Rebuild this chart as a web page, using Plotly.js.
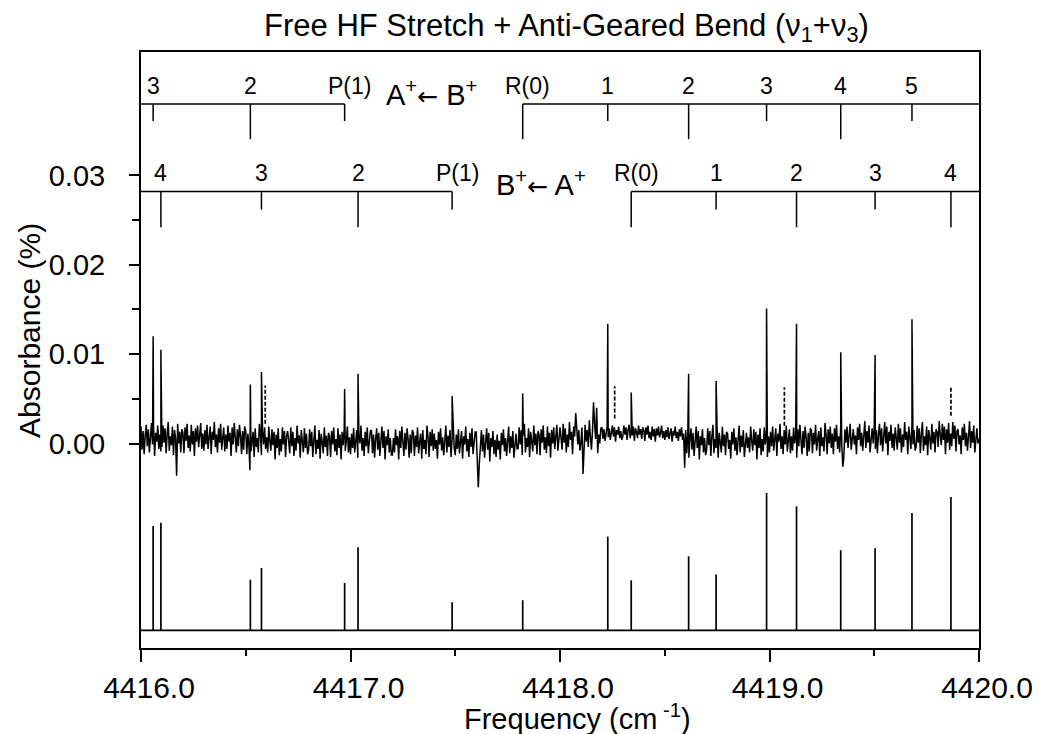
<!DOCTYPE html>
<html><head><meta charset="utf-8">
<script src="https://cdn.plot.ly/plotly-3.0.1.min.js"></script>
<style>html,body{margin:0;padding:0;background:#fff}#chart{width:1039px;height:734px}</style>
</head><body><div id="chart"></div>
<script>
// ---------- DATA ----------
// A+ <- B+ sub-band: assignments, line positions (cm-1), observed peak absorbance (%), calculated relative intensity
const abLabels = ['3', '2', 'P(1)', 'R(0)', '1', '2', '3', '4', '5'];
const abFreq   = [4416.058, 4416.522, 4416.972, 4417.822, 4418.228, 4418.614, 4418.986, 4419.340, 4419.680];
const abObs    = [0.0120, 0.0066, 0.0061, 0.0056, 0.0134, 0.0078, 0.0151, 0.0102, 0.0139];
const abCalc   = [0.760, 0.369, 0.344, 0.219, 0.682, 0.539, 1.000, 0.583, 0.854];
const abStrong = [false, true, false, true, false, true, false, true, false];

// B+ <- A+ sub-band
const baLabels = ['4', '3', '2', 'P(1)', 'R(0)', '1', '2', '3', '4'];
const baFreq   = [4416.095, 4416.575, 4417.036, 4417.485, 4418.340, 4418.745, 4419.129, 4419.504, 4419.866];
const baObs    = [0.0105, 0.0080, 0.0078, 0.0053, 0.0057, 0.0070, 0.0134, 0.0099, null];
const baCalc   = [0.784, 0.454, 0.605, 0.204, 0.364, 0.406, 0.903, 0.597, 0.971];
const baStrong = [true, false, true, false, true, false, true, false, true];

// dashed features in the observed trace (cm-1, absorbance % bottom / top)
const dashFreq = [4416.593, 4418.261, 4419.071, 4419.866];
const dashLow  = [0.0022, 0.0028, 0.0020, 0.0031];
const dashHigh = [0.0065, 0.0064, 0.0063, 0.0064];

const noiseStart = 4416.0;
const noiseStep = 0.005;
const noise = [
 19,-7,14,-12,9,21,-3,16,-10,7,23,-1,18,-14,12,2,20,-6,10,-9,
 -4,20,1,17,-11,11,24,-8,8,-2,19,-13,15,6,-36,22,0,13,-10,16,
 12,-11,18,3,22,-5,9,-9,21,-1,14,-14,17,2,20,-4,7,23,-6,11,
 -8,15,-1,21,-6,8,19,-12,13,4,24,-4,10,-10,17,1,22,-7,6,18,
 -9,10,-6,20,2,12,-14,18,-1,23,7,-10,16,-3,21,9,-12,14,-7,19,
 14,-12,11,-2,-30,-9,4,13,-15,17,-4,6,-10,22,9,-13,15,-1,18,-6,
 7,-10,19,3,-8,16,-2,13,-18,10,-5,17,-13,5,-9,18,-1,14,-15,8,
 14,2,-11,18,-3,13,-14,6,-8,20,0,9,-16,15,4,-10,17,-5,11,-12,
 -8,16,-3,13,-15,7,20,-12,4,-6,15,-17,11,2,-11,18,-4,9,-14,12,
 8,-15,14,-1,18,-9,5,-13,17,-5,10,-18,13,-2,16,-8,3,19,-10,7,
 -12,11,-5,17,-10,4,15,-16,9,0,20,-8,6,-14,13,-3,18,-11,2,14,
 15,-11,10,-16,5,17,-7,12,-14,3,19,-5,14,-18,8,-2,16,-10,6,-13,
 -13,6,-10,16,-2,8,-18,14,-5,19,3,-14,12,-7,17,5,-16,10,-11,15,
 12,-14,9,-4,18,-11,2,11,-17,15,-6,4,-12,20,7,-15,13,-3,16,-8,
 11,-6,4,-17,13,-1,17,-8,7,-13,2,20,-10,9,-4,15,-15,5,12,-5,
 -13,10,-6,16,-11,3,14,-17,8,-1,19,-9,5,-15,12,-4,17,-12,1,13,
 13,-13,-49,-22,3,15,-9,10,-16,1,17,-7,12,-20,6,-4,14,-12,4,-15,
 10,-7,3,-18,12,-2,16,-9,6,-14,1,19,-11,8,-5,14,-16,4,11,-6,
 -6,18,-1,15,-13,9,22,-10,6,-4,17,-15,13,4,-9,20,-2,11,-12,14,
 10,-13,16,1,20,-7,7,-11,19,-3,12,-16,15,0,18,-6,5,21,-8,9,
 18,6,-7,22,1,17,-10,10,-4,24,4,13,-12,19,8,34,21,-1,15,-8,
 1,18,-34,-9,21,2,15,-4,26,8,-7,13,46,23,5,40,-11,10,0,17,
 18,5,16,3,13,19,7,17,4,12,20,8,18,2,15,10,19,6,14,4,
 8,20,10,18,4,15,21,6,14,9,19,3,17,13,6,20,10,16,5,18,
 15,3,18,10,20,6,13,4,19,8,16,2,17,9,19,7,12,20,6,14,
 4,15,7,18,5,12,17,2,14,9,19,6,13,3,16,8,18,4,11,-27,
 15,-11,10,-16,5,17,-7,12,-14,3,19,-5,14,-18,8,-2,16,-10,6,-13,
 -7,17,-2,14,-14,8,21,-11,5,-5,16,-16,12,3,-10,19,-3,10,-13,13,
 11,-6,4,-17,13,-1,17,-8,7,-13,2,20,-10,9,-4,15,-15,5,12,-5,
 7,-10,19,3,-8,16,-2,13,-18,10,-5,17,-13,5,-9,18,-1,14,-15,8,
 -10,13,-3,19,-8,6,17,-14,11,2,22,-6,8,-12,15,-1,20,-9,4,16,
 -11,8,-8,18,0,10,-16,16,-3,21,5,-12,14,-5,19,7,-14,12,-9,17,
 15,-11,12,-1,21,-8,5,14,-14,18,-3,7,-9,23,10,-12,16,0,19,-5,
 11,-12,17,2,21,-6,8,-10,20,-2,-26,-15,16,1,19,-5,6,22,-7,10,
 16,-1,9,-12,18,4,22,-3,12,-8,7,25,-5,14,1,20,-10,10,17,0,
 20,-6,15,-11,10,22,-2,17,-9,8,24,0,19,-13,13,3,21,-5,11,-8,
 18,6,-7,22,1,17,-10,10,-4,24,4,13,-12,19,8,-6,21,-1,15,-8,
 -4,20,1,17,-11,11,24,-8,8,-2,19,-13,15,6,-7,22,0,13,-10,16,
 13,-4,25,9,-2,22,4,19,-12,16,1,23,-7,11,-3,24,5,20,-9,14,
 16,-1,9,-12,18,4,22,-3,12,-8,7,25,-5,14,1,20,-10,10,17,0,
 5
];

// axis ticks
const xRange = [4416.0, 4420.0];
const xTickVals = [4416, 4417, 4418, 4419, 4420];
const xTickText = ['4416.0', '4417.0', '4418.0', '4419.0', '4420.0'];
const xMinorVals = [4416.5, 4417.5, 4418.5, 4419.5];
const yTickVals = [0, 0.01, 0.02, 0.03];
const yTickText = ['0.00', '0.01', '0.02', '0.03'];
const yMinorVals = [0.005, 0.015, 0.025];

// ---------- LAYOUT CONSTANTS (positions, not data) ----------
const FONT = 'Liberation Sans, Arial, Helvetica, sans-serif';
const yRange = [-0.02289, 0.04382];
const stickRange = [-0.129, 4.212];
const ladderA = {line: 0.0380, strong: 0.03407, weak: 0.03609, label: 0.0400};
const ladderB = {line: 0.0282, strong: 0.0242, weak: 0.02618, label: 0.0303};

// ---------- TRACES ----------
const pts = noise.map((v, i) => [noiseStart + i * noiseStep, v * 1e-4]);
abFreq.forEach((f, i) => { if (abObs[i] !== null) pts.push([f, abObs[i]]); });
baFreq.forEach((f, i) => { if (baObs[i] !== null) pts.push([f, baObs[i]]); });
pts.sort((a, b) => a[0] - b[0]);

const obsTrace = {
  x: pts.map(p => p[0]), y: pts.map(p => p[1]),
  type: 'scatter', mode: 'lines', line: {color: '#000', width: 1.5},
  hoverinfo: 'skip'
};

const dx = [], dy = [];
dashFreq.forEach((f, i) => { dx.push(f, f, null); dy.push(dashLow[i], dashHigh[i], null); });
const dashTrace = {x: dx, y: dy, type: 'scatter', mode: 'lines',
  line: {color: '#000', width: 1.7, dash: '4px,2px'}, hoverinfo: 'skip'};

// calculated stick spectrum
const sx = [xRange[0], xRange[1], null], sy = [0, 0, null];
const allFreq = abFreq.concat(baFreq), allCalc = abCalc.concat(baCalc);
allFreq.forEach((f, i) => { sx.push(f, f, null); sy.push(0, allCalc[i], null); });
const stickTrace = {x: sx, y: sy, yaxis: 'y2', type: 'scatter', mode: 'lines',
  line: {color: '#000', width: 1.7}, hoverinfo: 'skip'};

// assignment ladders
function ladder(freqs, labels, strong, L) {
  const lx = [], ly = [];
  const pIdx = labels.indexOf('P(1)'), rIdx = labels.indexOf('R(0)');
  lx.push(xRange[0], freqs[pIdx], null, freqs[rIdx], xRange[1], null);
  ly.push(L.line, L.line, null, L.line, L.line, null);
  freqs.forEach((f, i) => {
    lx.push(f, f, null);
    ly.push(L.line, strong[i] ? L.strong : L.weak, null);
  });
  return {x: lx, y: ly, type: 'scatter', mode: 'lines',
    line: {color: '#000', width: 1.5}, hoverinfo: 'skip'};
}
const ladA = ladder(abFreq, abLabels, abStrong, ladderA);
const ladB = ladder(baFreq, baLabels, baStrong, ladderB);

const annotations = [];
function ladderLabels(freqs, labels, L) {
  freqs.forEach((f, i) => {
    annotations.push({x: f, y: L.label, xref: 'x', yref: 'y', text: labels[i],
      showarrow: false, xanchor: 'center', yanchor: 'middle',
      xshift: labels[i].indexOf('(') >= 0 ? 5 : 0,
      font: {family: FONT, size: 23, color: '#000'}});
  });
}
ladderLabels(abFreq, abLabels, ladderA);
ladderLabels(baFreq, baLabels, ladderB);

const ARROW = '<span style="font-family:DejaVu Sans;font-size:25px">\u2190</span>';
annotations.push({x: 4417.388, y: 0.03923, xref: 'x', yref: 'y',
  text: 'A<sup>+</sup>' + ARROW + ' B<sup>+</sup>',
  showarrow: false, xanchor: 'center', yanchor: 'middle',
  font: {family: FONT, size: 29, color: '#000'}});
annotations.push({x: 4417.911, y: 0.02920, xref: 'x', yref: 'y',
  text: 'B<sup>+</sup>' + ARROW + ' A<sup>+</sup>',
  showarrow: false, xanchor: 'center', yanchor: 'middle',
  font: {family: FONT, size: 29, color: '#000'}});

// axis titles placed as in the reference
annotations.push({xref: 'paper', yref: 'paper', x: 0.5203, y: -0.115,
  text: 'Frequency (cm<sup> -1</sup>)', showarrow: false, xanchor: 'center', yanchor: 'middle',
  font: {family: FONT, size: 29, color: '#000'}});
annotations.push({xref: 'paper', yref: 'paper', x: -0.1325, y: 0.5336, textangle: -90,
  text: 'Absorbance (%)', showarrow: false, xanchor: 'center', yanchor: 'middle',
  font: {family: FONT, size: 30, color: '#000'}});

const layout = {
  width: 1039, height: 734,
  margin: {l: 141, r: 60, t: 52, b: 86},
  paper_bgcolor: '#fff', plot_bgcolor: '#fff',
  showlegend: false,
  font: {family: FONT, color: '#000'},
  title: {text: 'Free HF Stretch + Anti-Geared Bend (\u03bd<sub>1</sub>+\u03bd<sub>3</sub>)',
    font: {family: FONT, size: 31, color: '#000'},
    xref: 'paper', x: 0.5077, xanchor: 'center',
    yref: 'container', y: 0.966, yanchor: 'middle'},
  xaxis: {range: xRange, showline: true, linewidth: 2, linecolor: '#000', mirror: true,
    showgrid: false, zeroline: false, ticks: 'outside', ticklen: 12, tickwidth: 2, tickcolor: '#000',
    tickmode: 'array', tickvals: xTickVals, ticktext: xTickText, ticklabelshift: 8,
    tickfont: {family: FONT, size: 30, color: '#000'},
    minor: {tickmode: 'array', tickvals: xMinorVals, ticks: 'outside', ticklen: 6, tickwidth: 2, tickcolor: '#000', showgrid: false}},
  yaxis: {range: yRange, showline: true, linewidth: 2, linecolor: '#000', mirror: true,
    showgrid: false, zeroline: false, ticks: 'outside', ticklen: 10, tickwidth: 2, tickcolor: '#000',
    tickmode: 'array', tickvals: yTickVals, ticktext: yTickText,
    tickfont: {family: FONT, size: 29, color: '#000'}, ticklabelstandoff: 18,
    minor: {tickmode: 'array', tickvals: yMinorVals, ticks: 'outside', ticklen: 7, tickwidth: 2, tickcolor: '#000', showgrid: false}},
  yaxis2: {overlaying: 'y', range: stickRange, visible: false, showgrid: false, zeroline: false},
  annotations: annotations
};

Plotly.newPlot('chart', [obsTrace, dashTrace, stickTrace, ladA, ladB], layout,
  {displayModeBar: false, staticPlot: true});
</script>
</body></html>
